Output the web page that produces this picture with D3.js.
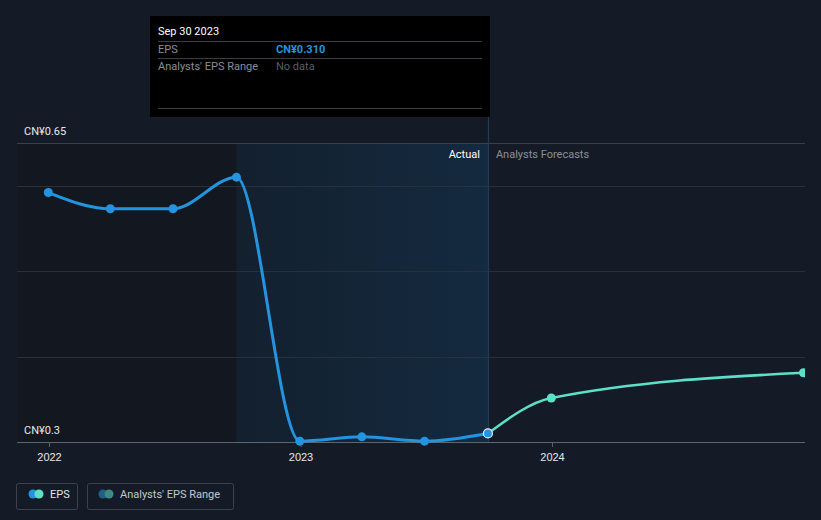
<!DOCTYPE html>
<html><head><meta charset="utf-8">
<script src="https://cdn.jsdelivr.net/npm/d3@7"></script>
<style>
html,body{margin:0;padding:0;background:#151b26;}
svg{display:block;font-family:Roboto,"Noto Sans",sans-serif;}
</style></head>
<body>
<svg id="c" width="821" height="520"></svg>
<script>
const actualDates = ["2021-12-31","2022-03-31","2022-06-30","2022-09-30","2022-12-31","2023-03-31","2023-06-30","2023-09-30"];
const actualEPS = [0.592, 0.573, 0.573, 0.610, 0.301, 0.306, 0.301, 0.310];
const forecastDates = ["2023-09-30","2023-12-31","2024-12-31"];
const forecastEPS = [0.310, 0.3515, 0.381];
const yTicks = [0.3, 0.65];
const yTickLabels = ["CN¥0.3", "CN¥0.65"];
const xTickYears = [2022, 2023, 2024];
const gridValues = [0.4, 0.5, 0.6, 0.65];
const tooltipDate = "Sep 30 2023";
const tooltipEPS = "CN¥0.310";

(function(){
const parse = d3.timeParse("%Y-%m-%d");
const svg = d3.select("#c");
const W = 821, H = 520;
const pL = 17, pR = 805, pT = 143, pB = 442;

const x = d3.scaleTime()
  .domain([new Date(2022,0,1), new Date(2024,0,1)])
  .range([49, 552]);
const y = d3.scaleLinear().domain([0.3, 0.65]).range([pB, pT]);

const actual = actualDates.map((d,i)=>({d:parse(d), v:actualEPS[i]}));
const forecast = forecastDates.map((d,i)=>({d:parse(d), v:forecastEPS[i]}));

const defs = svg.append("defs");
const grad = defs.append("linearGradient").attr("id","pg").attr("x1","0").attr("x2","1").attr("y1","0").attr("y2","0");
grad.append("stop").attr("offset","0").attr("stop-color","#13202e");
grad.append("stop").attr("offset","1").attr("stop-color","#142a40");
defs.append("clipPath").attr("id","clip").append("rect")
  .attr("x",pL).attr("y",0).attr("width",pR-pL).attr("height",H);

svg.append("rect").attr("width",W).attr("height",H).attr("fill","#151b26");

const xSplitL = x(actual[3].d), xSplitR = x(actual[actual.length-1].d);
svg.append("rect").attr("x",pL).attr("y",pT).attr("width",xSplitL-pL).attr("height",pB-pT).attr("fill","#131820");
svg.append("rect").attr("x",xSplitL).attr("y",pT).attr("width",xSplitR-xSplitL).attr("height",pB-pT).attr("fill","url(#pg)");

svg.append("g").selectAll("line").data(gridValues).join("line")
  .attr("x1",pL).attr("x2",pR)
  .attr("y1",d=>Math.round(y(d))+0.5).attr("y2",d=>Math.round(y(d))+0.5)
  .attr("stroke", d=>d===0.65?"#3a404a":"#2a303a").attr("stroke-width",1);

svg.append("line").attr("x1",xSplitR+0.5).attr("x2",xSplitR+0.5).attr("y1",117).attr("y2",pB)
  .attr("stroke","#24405a").attr("stroke-width",1);

const xAxis = d3.axisBottom(x).tickValues(xTickYears.map(yr=>new Date(yr,0,1)))
  .tickFormat(d3.timeFormat("%Y")).tickSize(5).tickPadding(6);
const gx = svg.append("g").attr("transform",`translate(0,${pB})`).call(xAxis);
gx.select(".domain").remove();
gx.selectAll(".tick line").attr("stroke","#5a606a");
gx.selectAll(".tick text").attr("fill","#e6e8ea").attr("font-size",11);
svg.append("line").attr("x1",pL).attr("x2",pR).attr("y1",pB+0.5).attr("y2",pB+0.5).attr("stroke","#5f656e");

svg.append("g").selectAll("text").data(yTicks).join("text")
  .attr("x",24).attr("y",(d)=>y(d)-8)
  .attr("fill","#e6e8ea").attr("font-size",11)
  .text((d,i)=>yTickLabels[i]);

svg.append("text").attr("x",xSplitR-8).attr("y",158).attr("text-anchor","end")
  .attr("fill","#ffffff").attr("font-size",11).text("Actual");
svg.append("text").attr("x",xSplitR+8).attr("y",158)
  .attr("fill","#8a9099").attr("font-size",11).text("Analysts Forecasts");

const line = d3.line().x(d=>x(d.d)).y(d=>y(d.v)).curve(d3.curveMonotoneX);
const plot = svg.append("g").attr("clip-path","url(#clip)");
plot.append("path").datum(forecast).attr("d",line).attr("fill","none")
  .attr("stroke","#5ce0c8").attr("stroke-width",2.5);
plot.append("path").datum(actual).attr("d",line).attr("fill","none")
  .attr("stroke","#2394df").attr("stroke-width",3);
plot.selectAll("circle.f").data(forecast.slice(1)).join("circle").attr("class","f")
  .attr("cx",d=>x(d.d)).attr("cy",d=>y(d.v)).attr("r",4.5).attr("fill","#5ce0c8");
plot.selectAll("circle.a").data(actual.slice(0,-1)).join("circle").attr("class","a")
  .attr("cx",d=>x(d.d)).attr("cy",d=>y(d.v)).attr("r",4.5).attr("fill","#2394df");
const last = actual[actual.length-1];
plot.append("circle").attr("cx",x(last.d)).attr("cy",y(last.v)).attr("r",4.5)
  .attr("fill","#2394df").attr("stroke","#e8f0f8").attr("stroke-width",1.2);

const tt = svg.append("g");
tt.append("rect").attr("x",150).attr("y",16).attr("width",340).attr("height",101).attr("fill","#000000");
tt.append("text").attr("x",158).attr("y",35).attr("fill","#ffffff").attr("font-size",11).text(tooltipDate);
[41.5, 58.5, 108.5].forEach(yy=>tt.append("line").attr("x1",158).attr("x2",482).attr("y1",yy).attr("y2",yy).attr("stroke","#3a3e44"));
tt.append("text").attr("x",158).attr("y",53).attr("fill","#8a8e94").attr("font-size",11).text("EPS");
tt.append("text").attr("x",276).attr("y",53).attr("fill","#2394df").attr("font-size",11).attr("font-weight","bold").text(tooltipEPS);
tt.append("text").attr("x",158).attr("y",70).attr("fill","#8a8e94").attr("font-size",11).text("Analysts' EPS Range");
tt.append("text").attr("x",276).attr("y",70).attr("fill","#5a5e64").attr("font-size",11).text("No data");

const lg = svg.append("g");
lg.append("rect").attr("x",16.5).attr("y",483.5).attr("width",61).attr("height",26).attr("rx",2)
  .attr("fill","none").attr("stroke","#3d434c");
lg.append("circle").attr("cx",33).attr("cy",494).attr("r",4.5).attr("fill","#2394df");
lg.append("circle").attr("cx",39).attr("cy",494).attr("r",4.5).attr("fill","#5ce0c8");
lg.append("text").attr("x",50).attr("y",498).attr("fill","#e0e2e5").attr("font-size",11).text("EPS");
lg.append("rect").attr("x",87.5).attr("y",483.5).attr("width",146).attr("height",26).attr("rx",2)
  .attr("fill","none").attr("stroke","#3d434c");
lg.append("circle").attr("cx",103).attr("cy",494).attr("r",4.5).attr("fill","#1f5f8a");
lg.append("circle").attr("cx",109).attr("cy",494).attr("r",4.5).attr("fill","#3e8a80");
lg.append("text").attr("x",120).attr("y",498).attr("fill","#c4c7cc").attr("font-size",11).text("Analysts' EPS Range");
})();
</script>
</body></html>
